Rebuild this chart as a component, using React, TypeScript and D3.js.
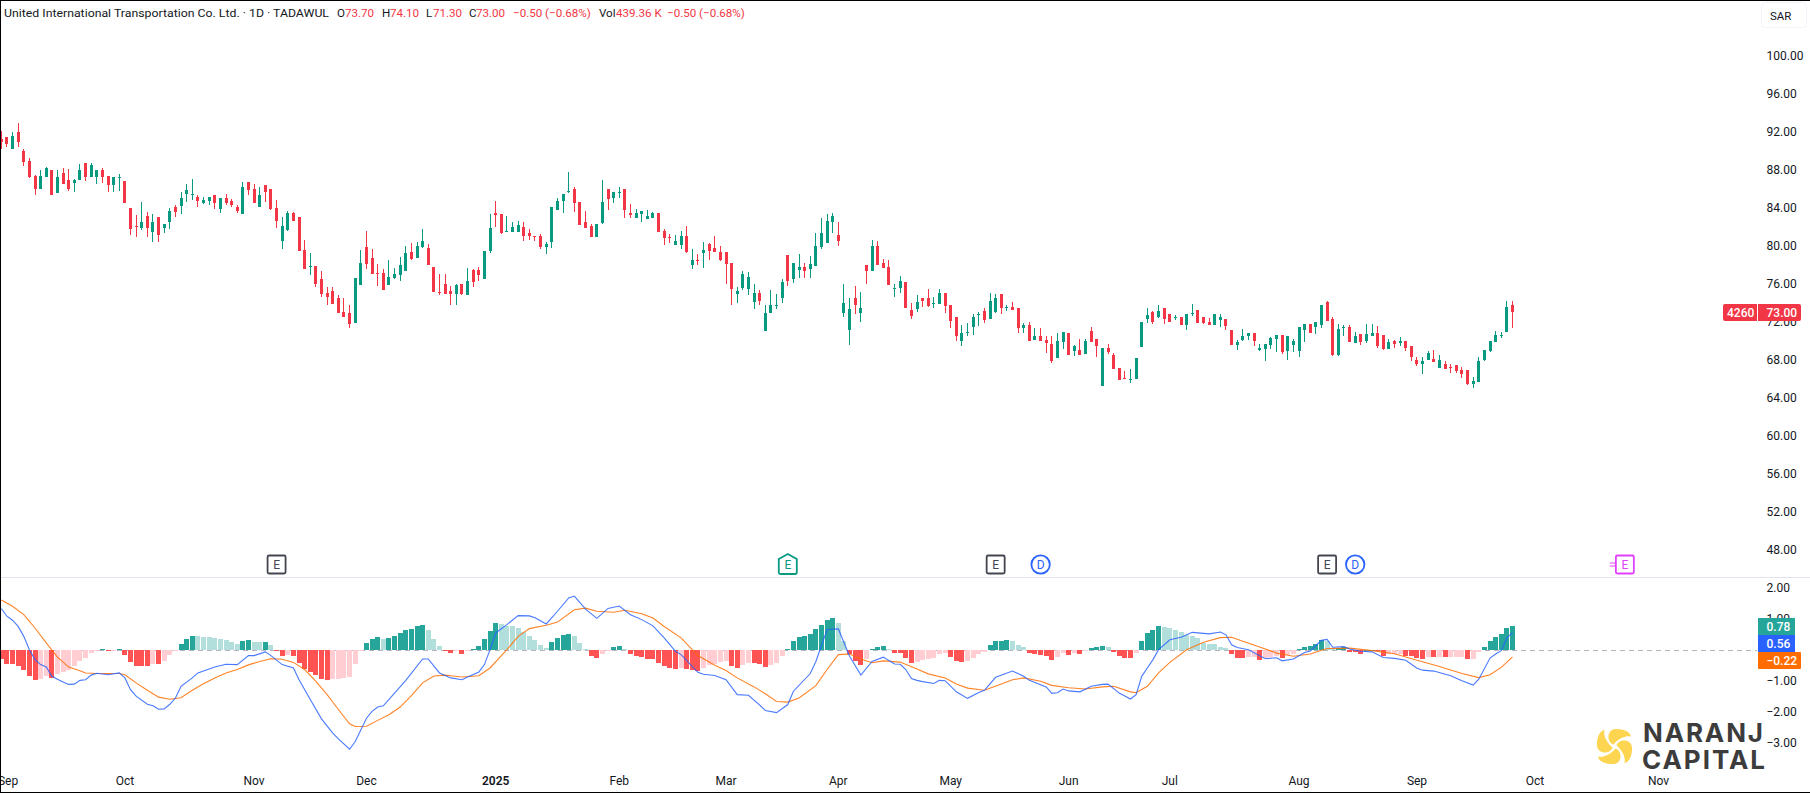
import React from "react";
import * as d3 from "d3";

const opens = [91.2,91.4,90.1,91.9,89.9,88.9,87.3,85.9,87.2,87.9,85.5,87.6,86.9,86.6,86.9,88.7,87.2,87.2,87.9,87.3,86.3,87.1,86.8,83.9,82.0,81.8,83.1,81.4,83.0,81.8,82.5,84.0,84.1,85.4,85.3,85.1,84.5,84.7,85.3,83.8,85.0,84.7,84.0,83.3,86.7,85.9,84.0,86.3,85.9,83.9,80.4,81.6,83.4,83.0,79.5,77.7,77.8,76.5,75.0,75.2,74.5,73.0,72.9,71.8,75.8,79.8,78.7,77.1,77.1,75.8,76.6,76.9,77.3,79.3,78.7,79.8,79.7,77.7,75.1,75.9,
75.2,74.9,75.9,74.8,77.4,77.4,76.5,79.4,83.4,83.3,81.4,81.4,81.4,81.9,81.3,81.0,81.0,79.8,80.3,83.7,84.7,85.6,85.9,84.6,82.5,82.0,80.9,82.3,85.9,85.0,85.5,85.9,83.4,82.9,83.3,82.8,82.9,83.4,81.5,80.9,80.0,80.0,81.0,77.9,78.5,79.2,80.1,79.7,79.3,79.3,78.1,74.9,75.5,75.4,74.0,75.0,71.0,72.9,73.6,74.4,79.0,76.5,77.4,77.7,77.5,77.8,79.8,80.2,82.5,81.1,72.9,71.1,74.4,72.9,77.9,77.3,79.9,78.1,77.7,75.4,
75.5,76.1,73.2,73.3,74.5,74.4,73.8,73.8,75.0,73.7,72.4,69.9,70.8,71.4,72.7,73.1,72.2,73.0,74.9,73.4,73.5,73.4,71.3,71.6,70.0,70.5,70.0,69.6,68.1,69.8,70.8,68.9,69.0,68.6,71.0,70.1,65.2,69.2,68.5,67.1,66.0,65.8,65.9,69.3,72.2,73.0,72.4,73.4,72.8,72.3,72.4,71.6,72.8,73.2,72.4,71.9,71.6,72.1,72.2,71.1,69.5,70.0,70.4,70.8,69.0,69.1,69.5,70.1,70.6,68.9,69.5,68.9,71.1,71.7,71.4,71.6,74.0,72.2,68.5,71.3,71.4,
69.7,70.7,69.9,70.5,70.8,70.6,69.1,69.9,69.7,69.9,69.4,67.9,67.5,67.9,68.0,67.1,67.5,67.2,67.4,66.9,66.9,65.4,65.6,67.9,68.9,69.8,70.5,70.9,73.7];
const highs = [92.0,91.4,91.9,92.9,90.1,89.2,87.4,87.9,88.2,87.9,87.9,88.1,88.0,87.0,88.6,88.7,88.7,87.9,88.1,87.3,87.2,87.5,86.8,83.9,83.2,84.6,83.5,83.3,83.0,82.2,83.9,84.2,85.6,86.5,87.0,85.3,85.1,85.1,85.3,85.0,85.4,84.9,84.2,86.7,86.7,86.5,86.1,86.3,85.9,84.8,83.0,83.6,83.5,83.0,80.6,79.2,77.8,77.3,75.6,75.6,74.8,74.5,73.7,76.6,79.5,81.5,79.6,78.0,77.5,78.5,77.6,78.8,79.9,80.2,80.4,81.7,80.1,77.7,77.0,77.0,
75.7,75.9,75.9,77.6,77.5,77.7,79.4,83.3,84.7,83.3,83.1,82.5,82.6,82.5,81.7,81.0,81.2,80.3,84.0,85.0,85.4,87.7,86.1,84.6,83.6,82.2,82.2,86.9,85.9,85.6,86.1,85.9,84.4,83.8,83.6,83.7,83.5,83.4,81.7,81.2,81.1,81.5,82.0,79.6,79.1,80.4,80.2,81.0,79.9,79.3,78.1,75.6,77.3,77.2,75.9,75.3,73.7,75.3,74.9,76.5,79.0,78.1,79.1,78.1,78.9,81.3,82.9,83.3,83.4,82.5,75.9,74.5,75.7,75.1,77.9,80.6,80.5,78.6,78.5,75.9,
76.8,76.1,73.9,74.8,74.5,75.4,74.6,75.4,75.0,73.7,72.4,71.6,71.8,72.8,73.0,73.4,75.0,74.9,74.9,73.7,74.0,73.4,71.8,71.9,71.3,71.3,70.5,70.5,70.8,70.9,70.8,69.5,70.1,70.1,71.4,70.1,69.2,69.6,68.7,67.1,66.8,67.0,68.1,71.9,73.4,73.1,73.7,73.4,72.8,72.7,72.4,72.8,73.8,73.2,72.5,72.4,72.8,72.8,72.2,71.1,70.0,71.2,70.8,70.8,69.6,69.6,70.4,70.6,70.6,70.5,70.1,71.4,71.7,71.7,71.9,73.7,74.1,72.5,71.7,71.6,71.6,
70.9,70.7,71.7,71.7,71.5,70.6,70.1,70.0,70.4,69.9,69.4,68.2,68.2,68.9,69.0,68.5,67.8,67.5,67.4,67.2,66.9,66.1,68.2,69.0,69.9,71.0,70.9,74.1,74.1];
const lows = [90.1,90.3,90.1,90.4,88.3,87.1,85.3,85.9,87.2,85.3,85.5,86.5,85.7,85.6,86.9,86.8,87.2,86.5,86.6,85.6,85.6,85.7,84.5,81.1,80.9,81.6,80.9,80.4,80.4,81.3,81.7,83.0,83.3,84.6,84.8,84.0,84.4,84.2,83.8,83.4,84.2,84.0,83.4,83.3,85.3,84.5,84.0,84.6,83.7,81.8,79.6,81.5,82.6,79.4,77.5,76.9,75.6,74.6,73.7,73.8,72.9,72.5,71.3,71.8,75.8,77.5,77.0,75.7,75.3,75.8,76.5,76.2,77.3,78.5,78.7,79.7,77.9,75.1,74.8,74.9,
73.7,73.7,74.8,74.8,75.6,76.2,76.5,79.2,81.9,81.2,81.4,81.4,81.4,80.5,80.6,80.5,79.6,79.1,79.7,83.7,83.4,85.5,83.5,82.1,81.8,80.9,80.9,82.2,83.7,84.5,85.0,82.9,82.9,82.9,82.5,82.8,82.9,81.4,80.0,80.2,80.0,79.6,79.2,77.5,77.9,77.6,78.5,79.3,78.4,75.9,73.7,73.9,75.3,74.8,73.3,73.7,71.0,72.9,73.3,73.9,75.7,76.0,76.6,76.6,76.6,77.8,79.6,80.2,81.3,79.9,72.5,69.5,72.8,71.9,75.9,77.3,77.9,77.6,75.8,74.6,
75.0,73.4,72.2,73.0,73.5,73.5,73.4,73.8,72.9,71.3,69.9,69.4,70.5,70.6,71.5,71.8,72.2,72.9,72.8,73.1,73.2,70.8,70.8,69.9,70.0,69.9,68.7,67.6,68.1,69.1,68.5,68.4,68.5,68.6,69.8,68.2,65.2,68.6,67.0,65.8,65.9,65.5,65.9,69.3,71.8,71.7,72.4,71.7,71.9,72.1,71.6,71.1,72.6,71.8,71.7,71.6,71.6,71.4,71.1,69.5,69.0,69.9,70.0,69.4,68.9,67.8,69.1,68.8,68.6,67.9,68.8,68.2,69.8,70.8,70.7,71.3,72.0,68.4,68.4,70.5,69.8,
69.7,69.5,69.7,70.5,69.2,69.0,69.1,69.2,69.4,68.9,67.8,67.3,66.5,67.9,67.7,67.1,67.0,66.6,66.6,66.0,65.3,65.0,65.6,67.8,68.8,69.8,70.2,70.9,71.3];
const closes = [90.9,90.7,91.5,90.9,88.8,87.2,85.9,87.3,88.1,85.3,87.2,86.5,85.9,86.9,87.9,87.2,88.5,87.9,87.2,86.3,87.2,87.2,84.5,81.7,81.9,82.5,81.8,82.5,81.1,82.2,83.6,83.5,85.0,85.8,85.4,84.7,84.8,85.1,84.4,85.0,84.5,84.2,83.6,86.1,85.8,84.5,85.3,85.6,83.8,82.6,82.0,83.4,82.6,79.4,77.5,77.8,75.9,74.9,74.6,73.8,72.9,72.5,71.7,76.6,78.1,78.0,77.0,77.0,75.3,76.7,77.0,77.9,79.2,78.6,79.9,80.5,77.9,75.1,75.0,74.9,
74.9,75.8,74.9,76.2,76.1,76.9,79.4,81.8,83.2,81.3,81.5,81.9,82.1,81.0,81.0,80.9,79.8,80.1,84.0,84.7,85.4,85.7,84.5,82.1,81.8,80.9,82.2,84.6,84.9,85.6,85.6,83.7,83.2,83.4,83.6,83.1,83.4,81.4,80.8,80.8,80.5,81.0,79.3,78.5,78.4,79.5,79.4,79.3,78.5,78.0,75.4,75.2,77.0,76.7,75.0,74.1,72.9,73.7,73.7,76.1,76.2,78.1,77.7,77.3,78.0,79.9,81.3,82.6,83.1,80.4,73.9,73.3,73.7,73.4,77.3,79.9,77.9,77.6,75.8,75.5,
76.2,73.4,72.6,74.0,74.1,73.6,73.9,75.0,73.6,72.0,70.5,70.8,70.9,72.5,72.8,72.1,74.1,74.5,73.4,73.5,73.2,71.3,71.6,69.9,70.5,69.9,69.7,67.8,69.9,70.9,68.5,69.4,68.5,69.9,69.8,69.4,69.2,68.8,67.0,65.8,65.9,65.9,68.1,71.9,72.7,71.9,73.1,72.2,71.9,72.4,71.6,72.8,72.9,71.8,71.8,71.6,72.8,72.4,71.5,69.5,69.8,70.5,70.8,69.9,69.2,69.6,70.2,70.6,68.8,70.5,69.9,71.4,71.7,70.8,71.9,73.7,72.0,68.4,71.2,71.4,69.8,
70.5,69.8,70.7,70.8,69.4,69.1,69.8,69.6,69.9,69.2,68.2,67.5,67.8,68.7,67.7,67.9,67.0,67.1,66.8,66.5,65.4,65.7,67.8,69.0,69.9,70.6,70.6,73.5,73.0];

const histogram = [-0.28,-0.44,-0.44,-0.5,-0.63,-0.83,-0.96,-0.95,-0.83,-0.89,-0.76,-0.7,-0.63,-0.5,-0.34,-0.25,-0.09,-0.02,0.02,-0.04,-0.02,0.04,-0.15,-0.38,-0.5,-0.51,-0.52,-0.44,-0.45,-0.34,-0.15,-0.02,0.2,0.37,0.46,0.45,0.43,0.42,0.4,0.37,0.33,0.27,0.2,0.3,0.33,0.27,0.26,0.27,0.17,-0.02,-0.18,-0.15,-0.18,-0.41,-0.6,-0.7,-0.8,-0.93,-0.96,-0.95,-0.92,-0.89,-0.86,-0.44,-0.03,0.24,0.37,0.43,0.37,0.4,0.46,0.56,0.66,0.69,0.78,0.82,0.66,0.37,0.14,-0.02,-0.09,
-0.03,-0.12,-0.02,0.04,0.14,0.37,0.62,0.88,0.85,0.78,0.77,0.72,0.59,0.46,0.33,0.17,0.08,0.27,0.4,0.49,0.53,0.46,0.24,0.04,-0.18,-0.25,-0.12,-0.02,0.11,0.14,0.04,-0.12,-0.18,-0.22,-0.28,-0.285,-0.41,-0.51,-0.57,-0.6,-0.57,-0.6,-0.63,-0.67,-0.57,-0.47,-0.44,-0.38,-0.37,-0.51,-0.57,-0.47,-0.41,-0.42,-0.44,-0.54,-0.47,-0.41,-0.18,0.04,0.3,0.43,0.46,0.53,0.69,0.82,0.98,1.04,0.88,0.3,-0.12,-0.34,-0.47,-0.28,0.04,0.11,0.14,0.04,-0.09,-0.1,
-0.25,-0.41,-0.38,-0.31,-0.3,-0.25,-0.12,-0.11,-0.22,-0.34,-0.38,-0.37,-0.25,-0.12,-0.05,0.17,0.3,0.305,0.31,0.3,0.17,0.11,-0.09,-0.12,-0.15,-0.18,-0.31,-0.22,-0.09,-0.15,-0.09,-0.12,-0.02,0.08,0.11,0.115,0.11,-0.05,-0.18,-0.25,-0.26,-0.09,0.3,0.56,0.66,0.78,0.75,0.72,0.66,0.58,0.5,0.46,0.39,0.22,0.2,0.18,0.09,0.07,-0.12,-0.25,-0.26,-0.22,-0.21,-0.31,-0.25,-0.24,-0.18,-0.25,-0.15,-0.12,0.02,0.11,0.115,0.2,0.33,0.3,0.05,0.08,0.09,-0.05,
-0.06,-0.12,0.01,0.015,-0.02,-0.18,-0.14,-0.13,-0.12,-0.18,-0.2,-0.27,-0.28,-0.21,-0.22,-0.21,-0.24,-0.23,-0.225,-0.22,-0.29,-0.28,-0.08,0.11,0.3,0.43,0.53,0.72,0.78];

const macdBars = [0,1,2,3,4,5,6,7,8,9,10,11,12,13,14,15,16,17,19,21,22,23,24,26,27,28,29,30,31,32,34,35,37,38,40,42,44,45,47,48,50,52,53,55,57,59,60,62,63,65,66,67,68,70,72,75,76,78,80,82,83,85,86,87,88,90,92,94,95,97,99,101,102,104,106,108,110,112,114,116,118,120,121,124,125,127,129,131,133,135,136,138,140,141,144,145,147,149,151,153,155,157,159,160,161,162,163,164,166,167,168,170,172,174,175,177,180,182,183,186,187,188,189,190,192,194,196,197,199,201,202,203,204,205,206,208,210,212,215,217,218,219,220,222,225,227,228,230,232,233,235,236,237,239,240,242,244,246,248,250,252,253,255,258,260,262,263,265,266,267,268,269];
const macdValues = [1.34,1.09,0.96,0.76,0.44,0.01,-0.31,-0.47,-0.55,-0.85,-0.94,-1.03,-1.11,-1.1,-0.98,-0.96,-0.81,-0.75,-0.8,-0.74,-0.9,-1.28,-1.49,-1.75,-1.8,-1.91,-1.9,-1.75,-1.55,-1.17,-0.9,-0.74,-0.61,-0.55,-0.46,-0.47,-0.18,-0.18,-0.06,-0.18,-0.47,-0.58,-0.96,-1.6,-2.22,-2.68,-2.87,-3.2,-2.95,-2.2,-1.98,-1.84,-1.8,-1.39,-0.98,-0.29,-0.29,-0.74,-0.9,-0.96,-0.87,-0.71,-0.47,0.01,0.55,0.82,1.11,1.1,1.04,0.84,1.25,1.68,1.74,1.32,1.02,1.34,1.42,1.14,0.98,0.78,0.39,-0.04,-0.15,-0.72,-0.78,-0.82,-0.96,-1.44,-1.46,-1.78,-1.95,-2.02,-1.76,-1.33,-0.76,-0.37,0.66,0.68,-0.2,-0.81,-0.37,-0.23,-0.45,-0.46,-0.63,-0.92,-0.98,-1.02,-1.08,-0.98,-0.99,-1.35,-1.56,-1.37,-1.3,-0.88,-0.68,-0.85,-0.98,-1.19,-1.4,-1.38,-1.26,-1.32,-1.35,-1.17,-1.11,-1.1,-1.39,-1.58,-1.44,-0.85,-0.58,-0.31,0.01,0.33,0.41,0.57,0.52,0.58,0.49,0.17,0.08,0.01,-0.28,-0.25,-0.35,-0.29,-0.08,-0.03,0.31,0.34,0.09,0.11,0.03,-0.04,-0.06,-0.24,-0.27,-0.33,-0.59,-0.65,-0.68,-0.83,-0.99,-1.13,-0.94,-0.26,-0.13,-0.02,0.39,0.56];
const signalBars = [0,2,4,6,8,10,12,14,15,17,19,21,22,24,26,28,30,32,34,36,38,40,42,44,46,48,50,52,54,56,58,60,62,63,65,67,69,71,73,75,77,79,80,82,85,87,90,92,94,97,99,102,104,106,109,111,114,116,118,121,124,127,129,131,134,136,138,140,142,145,147,149,151,153,155,157,160,163,165,168,170,172,175,178,180,182,185,187,190,193,196,198,201,202,204,206,208,211,214,217,219,221,224,227,230,233,236,240,244,248,252,256,260,263,265,267,269];
const signalValues = [1.61,1.41,1.14,0.71,0.23,-0.23,-0.55,-0.67,-0.74,-0.76,-0.76,-0.76,-0.8,-1.06,-1.3,-1.52,-1.59,-1.54,-1.3,-1.09,-0.9,-0.74,-0.63,-0.48,-0.37,-0.28,-0.3,-0.4,-0.63,-1.01,-1.44,-1.92,-2.38,-2.47,-2.46,-2.27,-2.09,-1.84,-1.47,-1.06,-0.84,-0.81,-0.83,-0.87,-0.83,-0.58,0.01,0.44,0.69,0.8,0.9,1.3,1.35,1.25,1.22,1.28,1.17,1.03,0.76,0.39,-0.18,-0.49,-0.66,-0.9,-1.19,-1.41,-1.66,-1.68,-1.55,-1.15,-0.63,-0.15,-0.13,-0.29,-0.41,-0.35,-0.39,-0.61,-0.77,-0.9,-1.1,-1.23,-1.3,-1.1,-0.96,-0.9,-1.01,-1.14,-1.22,-1.26,-1.19,-1.17,-1.35,-1.38,-1.17,-0.74,-0.4,0.01,0.25,0.4,0.41,0.28,0.1,-0.1,-0.2,-0.13,0.05,0.06,-0.02,-0.12,-0.33,-0.53,-0.76,-0.89,-0.8,-0.56,-0.22];

const priceTicks = [100,96,92,88,84,80,76,72,68,64,60,56,52,48];
const macdTicks = [2,1,-1,-2,-3];
const timeLabels = ["Sep","Oct","Nov","Dec","2025","Feb","Mar","Apr","May","Jun","Jul","Aug","Sep","Oct","Nov"];
const timeBars = [1.2,22,45,65,88,110,129,149,169,190,208,231,252,273,295];
const eventBars = [49,140,177,185,236,241,289];
const eventKinds = ["E","EH","E","D","E","D","EF"];

const UP = "#089981", DOWN = "#f23645";
const FONT = "Roboto, 'Noto Sans', sans-serif";
const INK = "#131722";

const fmt = (v: number) => (v < 0 ? "\u2212" : "") + Math.abs(v).toFixed(2);

function Marker({ kind, cx }: { kind: string; cx: number }) {
  const y = 564.5;
  if (kind === "D")
    return (
      <g>
        <circle cx={cx} cy={y} r={9.2} fill="#fff" stroke="#2962ff" strokeWidth={1.8} />
        <text x={cx} y={y + 4.2} textAnchor="middle" fontSize={12} fontFamily={FONT} fill="#2962ff">D</text>
      </g>
    );
  const color = kind === "EH" ? "#089981" : kind === "EF" ? "#e040fb" : "#434651";
  return (
    <g>
      {kind === "EH" ? (
        <path d={`M${cx - 9},${y - 5.5} L${cx},${y - 10.5} L${cx + 9},${y - 5.5} V${y + 8} a1.5,1.5 0 0 1 -1.5,1.5 H${cx - 7.5} a1.5,1.5 0 0 1 -1.5,-1.5 Z`} fill="#fff" stroke={color} strokeWidth={1.8} />
      ) : (
        <rect x={cx - 9} y={y - 9} width={18} height={18} rx={1.5} fill="#fff" stroke={color} strokeWidth={1.8} />
      )}
      {kind === "EF" && (
        <path d={`M${cx - 15},${y - 1.5} h6 M${cx - 15},${y + 1.5} h6`} stroke={color} strokeWidth={1.2} fill="none" />
      )}
      <text x={cx} y={y + 4.2} textAnchor="middle" fontSize={12} fontFamily={FONT} fill={color}>E</text>
    </g>
  );
}

export default function App() {
  const x = d3.scaleLinear().domain([0, 269]).range([1.3, 1512.5]);
  const y = d3.scaleLinear().domain([100, 48]).range([55.3, 549.3]);
  const m = d3.scaleLinear().domain([2, -3]).range([588, 743]);
  const lineOf = (bars: number[], vals: number[]) =>
    d3.line<number>().x((b) => x(b)).y((_, i) => m(vals[i])).curve(d3.curveLinear)(bars) as string;
  const zero = m(0);

  const histColor = (i: number) => {
    const v = histogram[i];
    const prev = i > 0 ? histogram[i - 1] : v + (v < 0 ? 1 : -1);
    if (v >= 0) return v >= prev ? "#26a69a" : "#b2dfdb";
    return v > prev ? "#ffcdd2" : "#ff5252";
  };

  const header = [
    { t: "United International Transportation Co. Ltd. · 1D · TADAWUL", x: 4, c: INK, w: 325 },
    { t: "O", x: 337, c: INK },
    { t: "73.70", x: 345, c: DOWN },
    { t: "H", x: 382, c: INK },
    { t: "74.10", x: 390, c: DOWN },
    { t: "L", x: 426, c: INK },
    { t: "71.30", x: 433, c: DOWN },
    { t: "C", x: 469, c: INK },
    { t: "73.00", x: 476, c: DOWN },
    { t: "\u22120.50 (\u22120.68%)", x: 513, c: DOWN },
    { t: "Vol", x: 599, c: INK },
    { t: "439.36 K", x: 616, c: DOWN },
    { t: "\u22120.50 (\u22120.68%)", x: 667, c: DOWN },
  ];

  const petal = "M-1,-2 C-8,-4 -8,-17 1,-17.5 C8,-18 16,-15 16.5,-10 C13,-11 6,-10 -1,-2Z";

  return (
    <svg width={1810} height={793} style={{ position: "absolute", left: 0, top: 0, display: "block", background: "#fff" }} fontFamily={FONT}>
      <rect x={0} y={0} width={1810} height={793} fill="#fff" />
      <line x1={0} x2={1810} y1={577.5} y2={577.5} stroke="#e0e3eb" />

      {/* zero line */}
      <line x1={0} x2={1757} y1={zero + 0.5} y2={zero + 0.5} stroke="#b2b5be" strokeDasharray="5 4" />

      {/* histogram */}
      <g shapeRendering="crispEdges">
        {histogram.map((v, i) => {
          const top = Math.min(m(v), zero);
          const h = Math.max(Math.abs(m(v) - zero), 1);
          return <rect key={i} x={Math.round(x(i) - 2.5)} y={top} width={5} height={h} fill={histColor(i)} />;
        })}
      </g>
      <path d={lineOf(signalBars, signalValues)} fill="none" stroke="#ff6d00" strokeWidth={1.1} opacity={0.85} />
      <path d={lineOf(macdBars, macdValues)} fill="none" stroke="#2962ff" strokeWidth={1.1} opacity={0.85} />

      {/* candles */}
      <g shapeRendering="crispEdges">
        {closes.map((c, i) => {
          const o = opens[i];
          const col = c >= o ? UP : DOWN;
          const cx = x(i);
          const top = Math.round(y(Math.max(o, c)));
          const bot = Math.round(y(Math.min(o, c)));
          return (
            <g key={i}>
              <rect x={Math.round(cx - 0.5)} y={y(highs[i])} width={1} height={y(lows[i]) - y(highs[i])} fill={col} />
              <rect x={Math.round(cx - 1.5)} y={top} width={3} height={Math.max(bot - top, 1)} fill={col} />
            </g>
          );
        })}
      </g>

      {/* header */}
      <g fontSize={11.6}>
        {header.map((h, i) => (
          <text key={i} x={h.x} y={17} fill={h.c} textLength={h.w} lengthAdjust={h.w ? "spacingAndGlyphs" : undefined}>{h.t}</text>
        ))}
      </g>

      {/* currency button */}
      <rect x={1761.5} y={2.5} width={45} height={25} rx={4} fill="#fff" stroke="#f0f3fa" />
      <text x={1770} y={19.5} fontSize={11.5} fill={INK}>SAR</text>

      {/* price axis */}
      <g fontSize={12} fill={INK}>
        {priceTicks.map((p) => (
          <text key={p} x={1766.5} y={y(p) + 4.3}>{p.toFixed(2)}</text>
        ))}
        {macdTicks.map((v) => (
          <text key={v} x={1766.5} y={m(v) + 4.3}>{fmt(v)}</text>
        ))}
      </g>

      {/* price labels */}
      <path d="M1725,304 H1757 V321 H1725 a2,2 0 0 1 -2,-2 V306 a2,2 0 0 1 2,-2Z" fill={DOWN} />
      <path d="M1758,304 H1799 a2,2 0 0 1 2,2 V319 a2,2 0 0 1 -2,2 H1758Z" fill={DOWN} />
      <text x={1727} y={316.7} fontSize={12} fontWeight={500} fill="#fff">4260</text>
      <text x={1766.5} y={316.7} fontSize={12} fontWeight={500} fill="#fff">{closes[269].toFixed(2)}</text>

      <rect x={1758} y={618} width={37} height={17} fill="#26a69a" />
      <rect x={1758} y={635} width={37} height={17} fill="#2962ff" />
      <rect x={1758} y={652} width={43} height={17} rx={1} fill="#ff6d00" />
      <text x={1766.5} y={631} fontSize={12} fontWeight={500} fill="#fff">{fmt(histogram[269])}</text>
      <text x={1766.5} y={648} fontSize={12} fontWeight={500} fill="#fff">{fmt(macdValues[macdValues.length - 1])}</text>
      <text x={1766.5} y={665} fontSize={12} fontWeight={500} fill="#fff">{fmt(signalValues[signalValues.length - 1])}</text>

      {/* events */}
      {eventBars.map((b, i) => (
        <Marker key={i} kind={eventKinds[i]} cx={x(b)} />
      ))}

      {/* time axis */}
      <g fontSize={12} fill={INK} textAnchor="middle">
        {timeLabels.map((t, i) => (
          <text key={i} x={x(timeBars[i])} y={784.5} fontWeight={t === "2025" ? 600 : 400}>{t}</text>
        ))}
      </g>

      {/* watermark */}
      <g transform="translate(1614.5,746.5)" fill="#fdd550">
        {[0, 90, 180, 270].map((r) => (
          <path key={r} d={petal} transform={`rotate(${r})`} />
        ))}
      </g>
      <g fill="#3c3c3c" fontFamily="Inter, Lato, sans-serif" fontWeight={700} fontSize={26}>
        <text x={1643} y={742} textLength={120} lengthAdjust="spacing">NARANJ</text>
        <text x={1642} y={769} textLength={123} lengthAdjust="spacing">CAPITAL</text>
      </g>

      {/* frame */}
      <g shapeRendering="crispEdges" fill="#000">
        <rect x={0} y={0} width={1810} height={1} />
        <rect x={0} y={0} width={1} height={793} />
        <rect x={0} y={792} width={1810} height={1} />
      </g>
    </svg>
  );
}
